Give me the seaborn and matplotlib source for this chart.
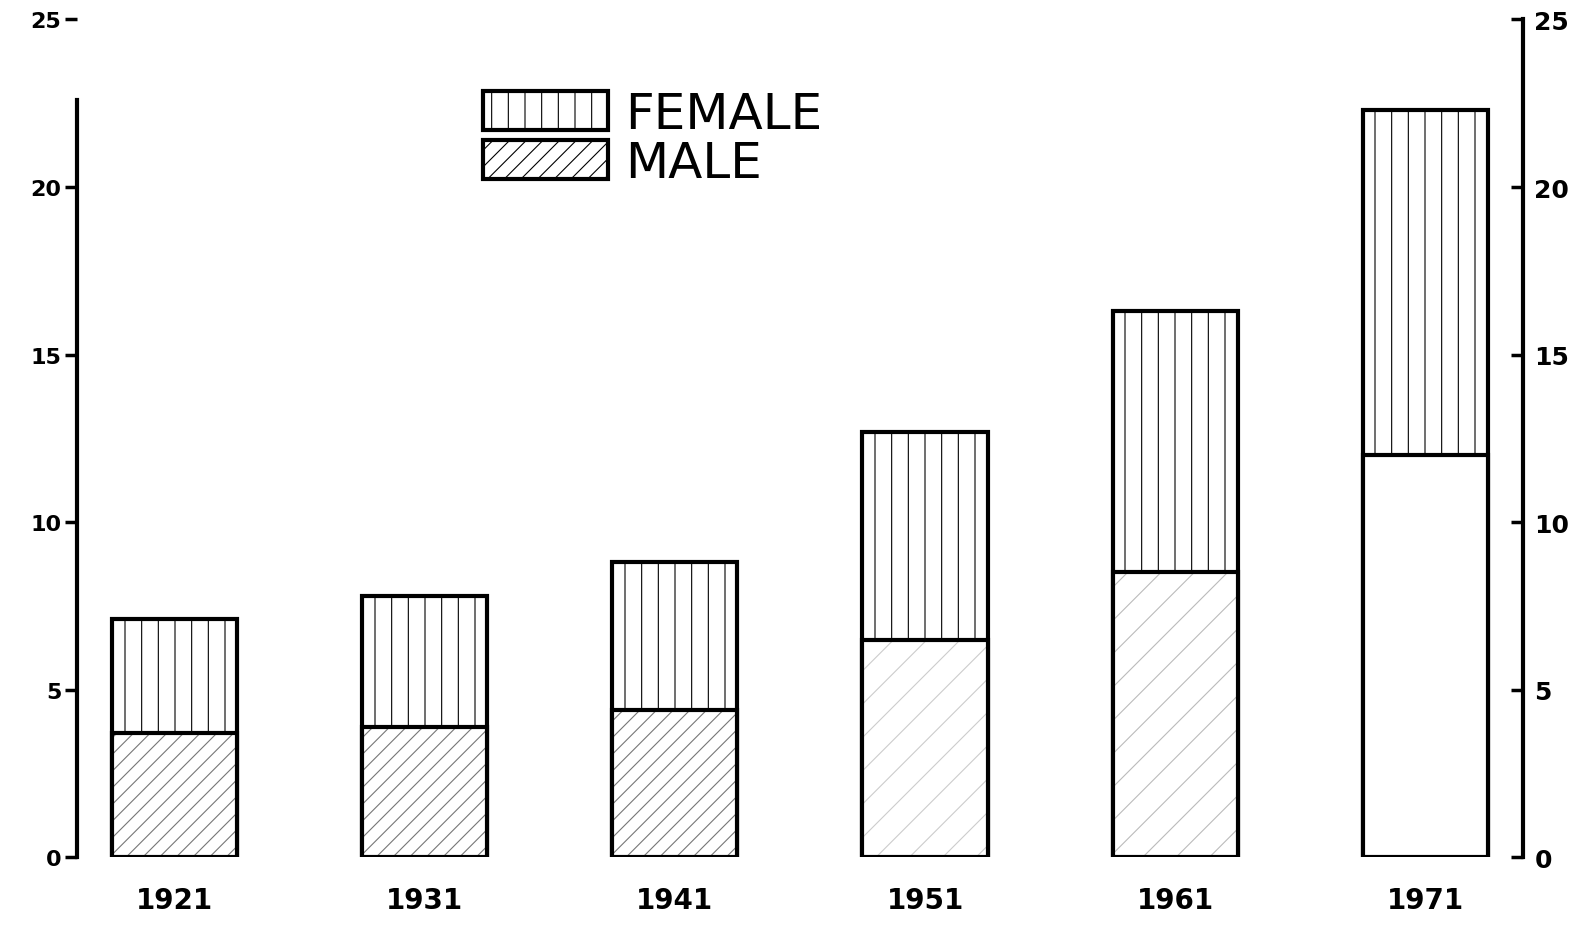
import pandas as pd
import matplotlib.pyplot as plt
import seaborn as sns
from matplotlib.patches import Patch
from matplotlib.font_manager import FontProperties

## values
years = ['1921', '1931', '1941', '1951', '1961', '1971']
male = [3.7, 3.9, 4.4, 6.5, 8.5, 12.0]
total = [7.1, 7.8, 8.8, 12.7, 16.3, 22.3]
male_hatch = ['//', '//', '//', '/', '/', '']
male_hatch_color = ['#777777', '#777777', '#777777', '#cccccc', '#bbbbbb', 'white']

df = pd.DataFrame({'year': years, 'male': male, 'total': total})

sns.set_style('white')
plt.rcParams['font.family'] = ['DejaVu Sans']
plt.rcParams['hatch.linewidth'] = 0.8
plt.rcParams['text.color'] = 'black'
plt.rcParams['ytick.color'] = 'black'
plt.rcParams['xtick.color'] = 'black'

fig = plt.figure(figsize=(15.95, 9.29), dpi=100)
ax = fig.add_axes([0.048, 0.076, 0.907, 0.902])

## female part = whole bar with vertical lines
sns.barplot(df, x='year', y='total', color='white', edgecolor='black',
            linewidth=3, width=0.5, ax=ax)
for p in ax.patches:
    p.set_hatch('|')
    p.set_linewidth(3)
n = len(ax.patches)

## male part: faint diagonal hatching, then a black outline on top
sns.barplot(df, x='year', y='male', color='white', edgecolor='gray',
            linewidth=0, width=0.5, ax=ax)
for p, h, c in zip(ax.patches[n:], male_hatch, male_hatch_color):
    p.set_hatch(h)
    p.set_edgecolor(c)
    p.set_linewidth(0)
sns.barplot(df, x='year', y='male', fill=False, edgecolor='black',
            linewidth=3, width=0.5, ax=ax)

ax.set_xlim(-0.39, 5.39)
ax.set_ylim(0, 25)
ax.set_xlabel('')
ax.set_ylabel('')
ax.set_yticks([0, 5, 10, 15, 20, 25])
ax.set_yticklabels(['0', '5', '10', '15', '20', '25'], fontsize=16, fontweight='bold')
ax.tick_params(axis='y', left=True, length=9, width=2.5, direction='out', pad=2)
ax.tick_params(axis='x', bottom=False, labelsize=20, pad=17)
for lab in ax.get_xticklabels():
    lab.set_fontweight('bold')

for s in ['top', 'bottom', 'right']:
    ax.spines[s].set_visible(False)
ax.spines['left'].set_linewidth(3)
ax.spines['left'].set_color('black')
ax.spines['left'].set_bounds(0, 22.6)

ax2 = ax.twinx()
ax2.set_ylim(0, 25)
ax2.set_yticks([0, 5, 10, 15, 20, 25])
ax2.set_yticklabels(['0', '5', '10', '15', '20', '25'], fontsize=18, fontweight='bold')
ax2.tick_params(axis='y', right=True, length=9, width=2.5, direction='in', pad=8)
for s in ['top', 'bottom', 'left']:
    ax2.spines[s].set_visible(False)
ax2.spines['right'].set_linewidth(3)
ax2.spines['right'].set_color('black')

handles = [Patch(facecolor='white', edgecolor='black', hatch='|', linewidth=3, label='FEMALE'),
           Patch(facecolor='white', edgecolor='black', hatch='//', linewidth=3, label='MALE')]
legend_font = FontProperties(family=['DejaVu Sans'], size=36)
ax.legend(handles=handles, loc='upper left', bbox_to_anchor=(0.281, 0.916),
          frameon=False, prop=legend_font, handlelength=2.5, handleheight=0.85,
          labelspacing=0.02, handletextpad=0.35, borderaxespad=0, borderpad=0)

plt.savefig('out.png', dpi=100)
